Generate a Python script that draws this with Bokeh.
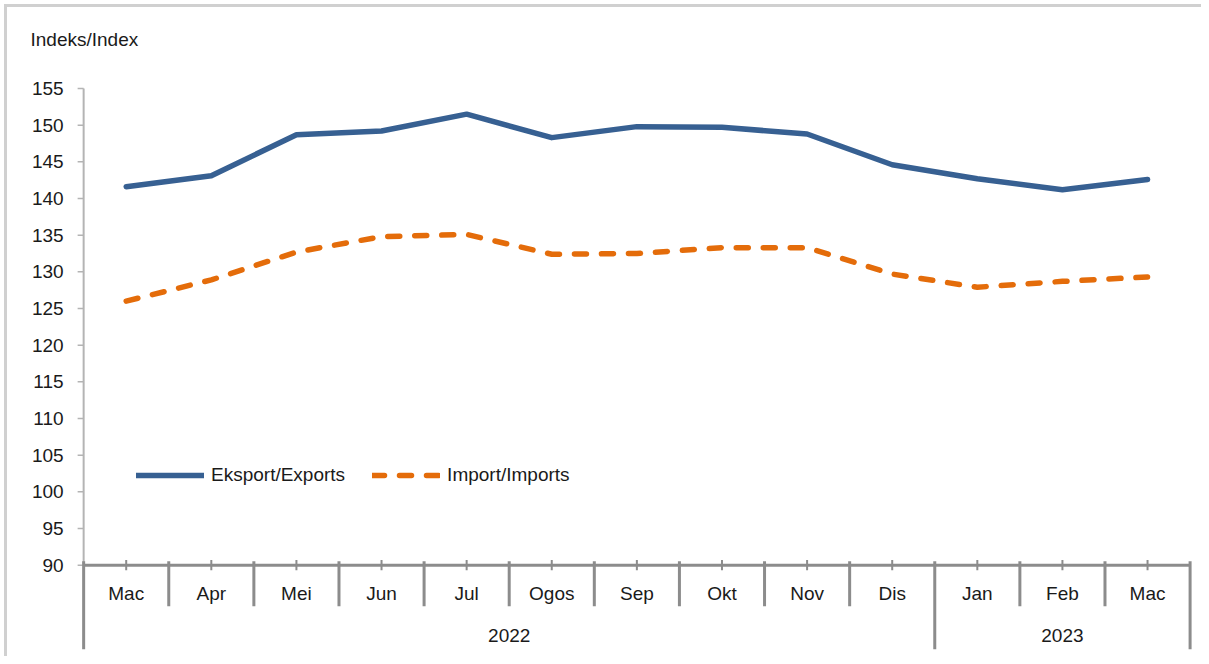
from bokeh.plotting import figure
from bokeh.models import (Range1d, ColumnDataSource, Legend, LegendItem)
from bokeh.core.properties import value
from bokeh.embed import file_html
from bokeh.resources import INLINE

months = ["Mac", "Apr", "Mei", "Jun", "Jul", "Ogos", "Sep", "Okt", "Nov", "Dis", "Jan", "Feb", "Mac"]
years = ["2022", "2023"]
year_spans = [(0, 9), (10, 12)]  # index of first and last month for each year
exports = [141.6, 143.1, 148.7, 149.2, 151.5, 148.3, 149.8, 149.7, 148.8, 144.6, 142.7, 141.2, 142.6]
imports = [126.0, 128.9, 132.7, 134.8, 135.1, 132.4, 132.5, 133.3, 133.3, 129.7, 127.9, 128.7, 129.3]
y_ticks = list(range(90, 156, 5))
y_tick_labels = [str(t) for t in y_ticks]
y_title = "Indeks/Index"

FONT = "Liberation Sans"
FS = "19px"
BLUE = "#376092"
ORANGE = "#E46C0A"
AXIS = "#8c8c8c"
YAXIS = "#b4b4b4"
TXT = "#1a1a1a"

Y_MIN, Y_MAX = y_ticks[0], y_ticks[-1]
Y_LOW = 78.5   # bottom of frame (below axis, for category labels)
Y_TOP = 164.0  # top of frame (room for the axis title)
PX_X = 84.9    # pixels per category
PX_Y = 7.3     # pixels per index point
X0 = -0.5      # left edge of category axis

n = len(months)
xs = list(range(n))

p = figure(width=1197, height=652, output_backend="svg", toolbar_location=None,
           x_range=Range1d(X0 - 59 / PX_X, n - 0.5 + 0.04), y_range=Range1d(Y_LOW, Y_TOP),
           min_border_left=17, min_border_top=15, min_border_right=11, min_border_bottom=10,
           styles={"border-top": "3px solid #d0d0d0", "border-left": "3px solid #d0d0d0",
                   "margin-top": "4px", "margin-left": "4px"})
p.xaxis.visible = False
p.yaxis.visible = False
p.xgrid.visible = False
p.ygrid.visible = False
p.outline_line_color = None
p.background_fill_color = "white"
p.border_fill_color = "white"

# value axis: line, ticks, labels, title
p.segment(x0=[X0], y0=[Y_MIN], x1=[X0], y1=[Y_MAX], line_color=YAXIS, line_width=2)
p.segment(x0=[X0 - 6 / PX_X] * len(y_ticks), y0=y_ticks, x1=[X0] * len(y_ticks), y1=y_ticks,
          line_color=YAXIS, line_width=1.5)
p.text(x=[X0 - 20 / PX_X] * len(y_ticks), y=y_ticks, text=y_tick_labels, text_align="right",
       text_baseline="middle", text_font=value(FONT), text_font_size=FS, text_color=TXT)
p.text(x=[X0 - 53 / PX_X], y=[Y_MAX + 49 / PX_Y], text=[y_title], text_align="left",
       text_baseline="middle", text_font=value(FONT), text_font_size=FS, text_color=TXT)

# category axis drawn with glyphs
p.segment(x0=[X0], y0=[Y_MIN], x1=[n - 0.5], y1=[Y_MIN], line_color=AXIS, line_width=3)
bounds = [i - 0.5 for i in range(n + 1)]
year_bounds = [year_spans[0][0] - 0.5] + [e + 0.5 for s, e in year_spans]
month_only = [b for b in bounds if b not in year_bounds]
p.segment(x0=month_only, y0=[Y_MIN + 0.55] * len(month_only), x1=month_only,
          y1=[84.4] * len(month_only), line_color=AXIS, line_width=3)
p.segment(x0=year_bounds, y0=[Y_MIN + 0.55] * len(year_bounds), x1=year_bounds,
          y1=[Y_LOW] * len(year_bounds), line_color=AXIS, line_width=3)
p.segment(x0=xs, y0=[Y_MIN + 0.7] * n, x1=xs, y1=[Y_MIN - 0.7] * n, line_color=AXIS, line_width=2)
p.text(x=xs, y=[86.2] * n, text=months, text_align="center", text_baseline="middle",
       text_font=value(FONT), text_font_size=FS, text_color=TXT)
p.text(x=[(s + e) / 2 for s, e in year_spans], y=[80.4] * len(years), text=years,
       text_align="center", text_baseline="middle",
       text_font=value(FONT), text_font_size=FS, text_color=TXT)

src = ColumnDataSource(dict(x=xs, exp=exports, imp=imports))
r1 = p.line("x", "exp", source=src, line_color=BLUE, line_width=5.5, line_join="round", line_cap="round")
r2 = p.line("x", "imp", source=src, line_color=ORANGE, line_width=5.5, line_dash="12 15",
            line_join="round", line_cap="round")

legend = Legend(items=[LegendItem(label="Eksport/Exports", renderers=[r1]),
                       LegendItem(label="Import/Imports", renderers=[r2])],
                orientation="horizontal", location=(53 + 59, 163), padding=0, margin=0,
                glyph_width=68, glyph_height=20, label_height=20, label_standoff=7, spacing=27,
                label_text_font=FONT, label_text_font_size=FS, label_text_color=TXT,
                background_fill_alpha=0, border_line_alpha=0)
p.add_layout(legend)

open("out.html", "w").write(file_html(p, INLINE))
